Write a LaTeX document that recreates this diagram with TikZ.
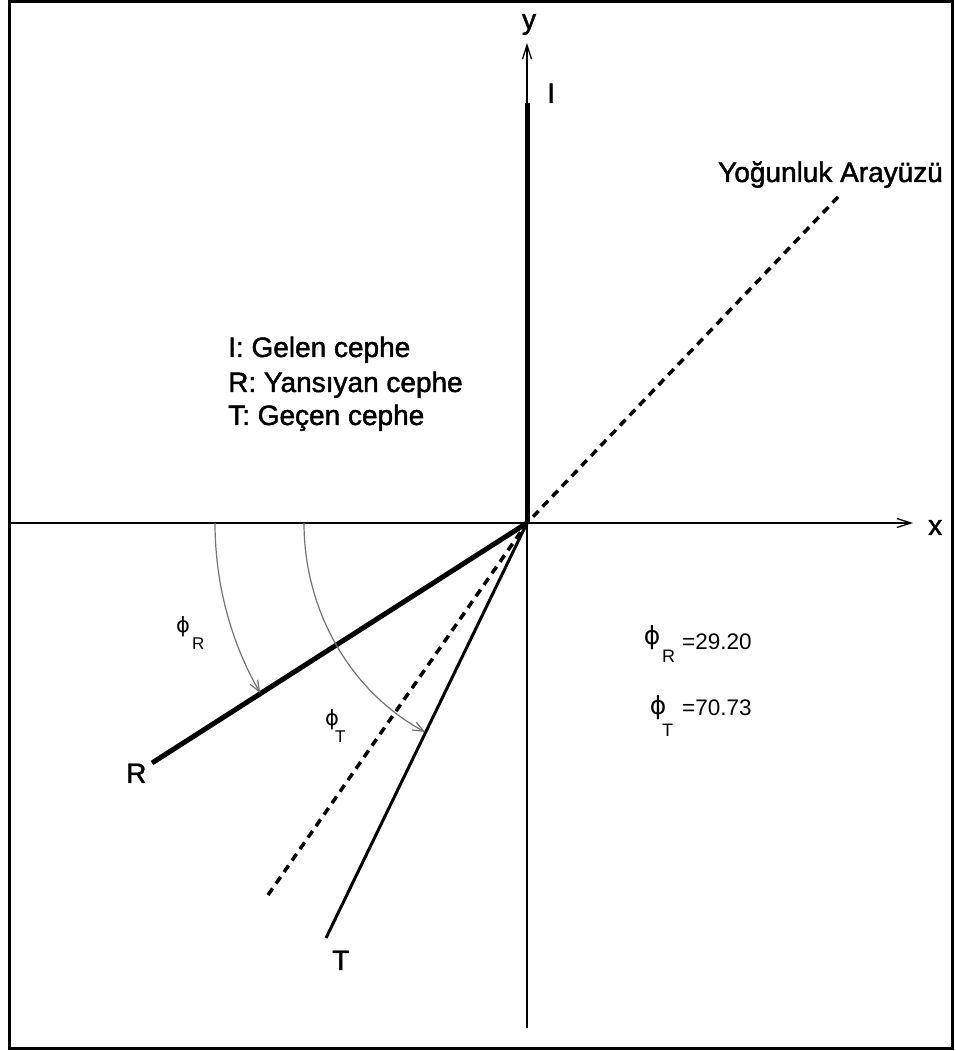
\documentclass[tikz,border=0pt]{standalone}
\usepackage{fontspec}
\setmainfont{Liberation Sans}
\newfontfamily\heavyfont[RawFeature={embolden=1.6}]{Liberation Sans}
\newfontfamily\phifont{DejaVu Sans}
\usetikzlibrary{arrows.meta}
\begin{document}
\begin{tikzpicture}[x=1pt,y=1pt,
  lbl/.style={inner sep=0pt, anchor=base west, font=\heavyfont\fontsize{28}{34}\selectfont},
  philbl/.style={inner sep=0pt, anchor=center, font=\phifont\fontsize{#1}{#1}\selectfont},
  sublbl/.style={inner sep=0pt, anchor=base west, font=\fontsize{#1}{#1}\selectfont},
  vallbl/.style={inner sep=0pt, anchor=base west, font=\fontsize{22.5}{26}\selectfont},
  axisline/.style={line width=#1, -{Straight Barb[length=14pt,width=9pt,line width=1.3pt]}},
  frontline/.style={line width=#1},
  interface/.style={line width=3.5pt, dash pattern=on 8pt off 6pt},
  anglearc/.style={line width=1.2pt, draw=black!55, -{Straight Barb[length=11pt,width=9pt,line width=1.2pt]}}
]
\useasboundingbox (0,0) rectangle (955,1051);
\draw[line width=3pt] (9.5,2.5) rectangle (952.5,1049.5);

\coordinate (O) at (527,528);
\coordinate (ytop) at (527,1008);
\coordinate (ybot) at (527,23);
\coordinate (Itop) at (527,948);
\coordinate (xleft) at (11,528);
\coordinate (xright) at (913,528);
\coordinate (dU) at (838,854);
\coordinate (dL) at (268,156);
\coordinate (Rend) at (152,288);
\coordinate (Tend) at (326,113);
\coordinate (aR) at (215,528);
\coordinate (aT) at (304,528);

% axes
\draw[axisline=2pt] (ybot) -- (ytop);
\draw[axisline=2.5pt] (xleft) -- (xright);

% interface
\draw[interface] (dL) -- (O) -- (dU);

% fronts
\draw[frontline=5pt] (O) -- (Itop);
\draw[frontline=5pt] (O) -- (Rend);
\draw[frontline=3pt] (O) -- (Tend);

% angle arcs
\draw[anglearc] (aR) arc[start angle=180, end angle=211.2, x radius=312, y radius=328];
\draw[anglearc] (aT) arc[start angle=180, end angle=242.8, x radius=223, y radius=235];

% labels
\node[lbl, anchor=base] (ylab) at (529,1022) {y};
\node[lbl] (Ilab) at (547,948) {I};
\node[lbl] (xlab) at (928,516) {x};
\node[lbl] (title) at (718,869) {Yoğunluk Arayüzü};
\node[lbl] (leg1) at (228,694) {I: Gelen cephe};
\node[lbl] (leg2) at (228,659) {R: Yansıyan cephe};
\node[lbl] (leg3) at (228,626) {T: Geçen cephe};
\node[lbl] (Rlab) at (126,268) {R};
\node[lbl] (Tlab) at (332,81) {T};

% phi labels on the arcs
\node[philbl=21] (phiR1) at (183,424) {ϕ};
\node[sublbl=17] (subR1) at (192,401) {R};
\node[philbl=21] (phiT1) at (332,331) {ϕ};
\node[sublbl=17] (subT1) at (335,308) {T};

% values
\node[philbl=25] (phiR2) at (652,413.5) {ϕ};
\node[sublbl=18] (subR2) at (662,388) {R};
\node[vallbl] (valR) at (682,401) {=29.20};
\node[philbl=25] (phiT2) at (658,343.5) {ϕ};
\node[sublbl=18] (subT2) at (662,314) {T};
\node[vallbl] (valT) at (682,335) {=70.73};
\end{tikzpicture}
\end{document}
